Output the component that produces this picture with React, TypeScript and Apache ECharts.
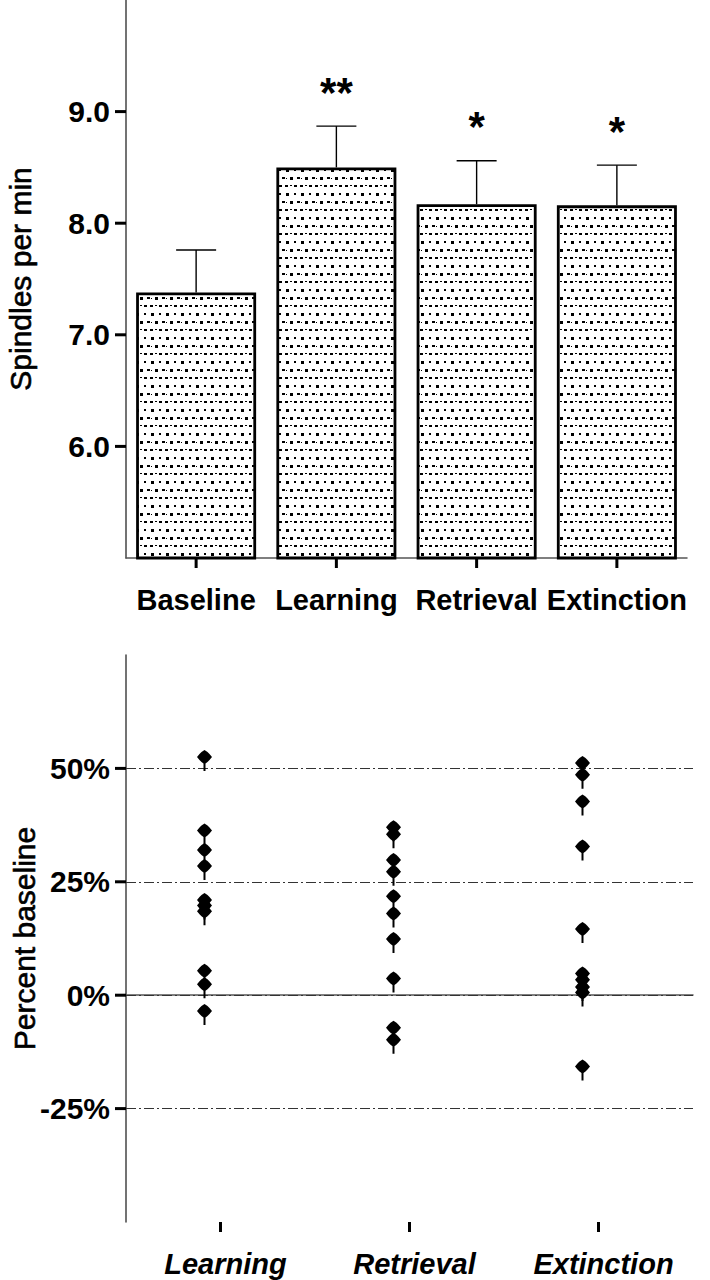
import React, { useEffect, useRef } from "react";
import * as echarts from "echarts";

const barCategories = ["Baseline", "Learning", "Retrieval", "Extinction"];
const barMeans = [7.38, 8.5, 8.17, 8.16];
const barUpper = [7.76, 8.87, 8.56, 8.52];
const significance = ["", "**", "*", "*"];
const barTicks = [6, 7, 8, 9];

const scatterCategories = ["Learning", "Retrieval", "Extinction"];
const learningPct = [52.5, 36.3, 32.0, 28.5, 21.0, 19.8, 18.5, 5.4, 2.4, -3.5];
const retrievalPct = [37.0, 35.5, 29.8, 27.2, 21.8, 18.0, 12.4, 3.7, -7.2, -9.8];
const extinctionPct = [51.2, 48.6, 42.7, 32.8, 14.6, 4.8, 3.4, 1.8, 0.6, -15.7];
const pctTicks = [-25, 0, 25, 50];

const FONT = "Liberation Sans, Arial, Helvetica, sans-serif";

const markerPath =
  "path://M7.5 0 L10.5 2 L12.5 4 L15 7 L12.5 10 L10.5 12 L8.5 13.5 L8.5 21 L6.5 21 L6.5 13.5 L4.5 12 L2.5 10 L0 7 L2.5 4 L4.5 2 Z";

function makePattern() {
  const c = document.createElement("canvas");
  c.width = 15;
  c.height = 24;
  const ctx = c.getContext("2d")!;
  ctx.fillStyle = "#ffffff";
  ctx.fillRect(0, 0, 15, 24);
  ctx.fillStyle = "#000000";
  ctx.fillRect(1, 1, 3, 3);
  ctx.fillRect(9, 1, 2, 2);
  ctx.fillRect(5, 9, 3, 3);
  ctx.fillRect(12, 9, 3, 2);
  ctx.fillRect(1, 10, 1, 1);
  ctx.fillRect(0, 17, 3, 2);
  ctx.fillRect(5, 17, 2, 1);
  ctx.fillRect(9, 17, 3, 2);
  return c;
}

export default function App() {
  const ref = useRef<HTMLDivElement>(null);
  useEffect(() => {
    if (!ref.current) return;
    const chart = echarts.init(ref.current, undefined, { renderer: "svg" });
    const pattern = makePattern();

    const scatterData: number[][] = [];
    [learningPct, retrievalPct, extinctionPct].forEach((arr, i) =>
      arr.forEach((v) => scatterData.push([i, v]))
    );

    const xTickSeries = (gridIdx: number, cats: string[], base: number) => ({
      type: "custom",
      xAxisIndex: gridIdx,
      yAxisIndex: gridIdx,
      data: cats.map((_, i) => [i, base]),
      encode: { x: 0, y: 1 },
      clip: false,
      silent: true,
      z: 10,
      renderItem: (params: any, api: any) => {
        const p = api.coord([api.value(0), api.value(1)]);
        const cs = params.coordSys;
        const yb = cs.y + cs.height;
        return { type: "rect", shape: { x: p[0] - 1.5, y: yb, width: 3, height: 10 }, style: { fill: "#000" } };
      },
    });

    // Y-axis tick marks and tick labels, placed through the axis scale
    const yTickSeries = (gridIdx: number, ticks: number[], fmt: (v: number) => string) => ({
      type: "custom",
      xAxisIndex: gridIdx,
      yAxisIndex: gridIdx,
      data: ticks.map((v) => [0, v]),
      encode: { x: 0, y: 1 },
      clip: false,
      silent: true,
      z: 10,
      renderItem: (params: any, api: any) => {
        const v = api.value(1);
        const p = api.coord([api.value(0), v]);
        const x0 = params.coordSys.x;
        return {
          type: "group",
          children: [
            { type: "rect", shape: { x: x0 - 11, y: p[1] - 1.5, width: 11, height: 3 }, style: { fill: "#000" } },
            {
              type: "text",
              x: x0 - 16,
              y: p[1],
              style: {
                text: fmt(v),
                fontSize: 30,
                fontWeight: "bold",
                fontFamily: FONT,
                fill: "#000",
                align: "right",
                verticalAlign: "middle",
              },
            },
          ],
        };
      },
    });

    const nameStyle = {
      color: "#000",
      fontSize: 30,
      fontFamily: FONT,
      textBorderColor: "#000",
      textBorderWidth: 0.6,
    };

    const option: any = {
      animation: false,
      backgroundColor: "#ffffff",
      textStyle: { fontFamily: FONT },
      grid: [
        { left: 126, top: 0, right: 23, height: 558, outerBoundsMode: "none", containLabel: false },
        { left: 126, top: 655, right: 17, height: 567, outerBoundsMode: "none", containLabel: false },
      ],
      xAxis: [
        {
          gridIndex: 0,
          type: "category",
          data: barCategories,
          axisLine: { lineStyle: { color: "#555", width: 1.5 } },
          axisTick: { show: false },
          axisLabel: { color: "#000", fontSize: 29, fontWeight: "bold", margin: 27, interval: 0, fontFamily: FONT },
        },
        {
          gridIndex: 1,
          type: "category",
          data: scatterCategories,
          axisLine: { lineStyle: { color: "#555", width: 1.5 } },
          axisTick: { show: false },
          axisLabel: {
            color: "#000",
            fontSize: 29,
            fontWeight: "bold",
            fontStyle: "italic",
            margin: 27,
            interval: 0,
            padding: [0, 0, 0, 10],
            fontFamily: FONT,
          },
        },
      ],
      yAxis: [
        {
          gridIndex: 0,
          type: "value",
          min: 5,
          max: 10,
          interval: 1,
          name: "Spindles per min",
          nameLocation: "middle",
          nameGap: 91,
          nameTextStyle: nameStyle,
          axisLine: { show: true, lineStyle: { color: "#444", width: 1.5 } },
          axisTick: { show: false },
          axisLabel: { show: false },
          splitLine: { show: false },
        },
        {
          gridIndex: 1,
          type: "value",
          min: -50,
          max: 75,
          interval: 25,
          name: "Percent baseline",
          nameLocation: "middle",
          nameGap: 87,
          nameTextStyle: nameStyle,
          axisLine: { show: true, lineStyle: { color: "#444", width: 1.5 } },
          axisTick: { show: false },
          axisLabel: { show: false },
          splitLine: { show: false },
        },
      ],
      series: [
        {
          type: "bar",
          xAxisIndex: 0,
          yAxisIndex: 0,
          data: barMeans,
          barWidth: 120,
          itemStyle: {
            color: { image: pattern, repeat: "repeat", imageWidth: 15, imageHeight: 24 },
            borderColor: "#000",
            borderWidth: 2.8,
          },
          z: 2,
        },
        {
          type: "custom",
          xAxisIndex: 0,
          yAxisIndex: 0,
          data: barMeans.map((m, i) => [i, m, barUpper[i]]),
          encode: { x: 0, y: [1, 2] },
          z: 1,
          renderItem: (params: any, api: any) => {
            const i = api.value(0);
            const p0 = api.coord([i, api.value(1)]);
            const p1 = api.coord([i, api.value(2)]);
            const half = 20;
            const st = { stroke: "#000", lineWidth: 1.4 };
            return {
              type: "group",
              children: [
                { type: "line", shape: { x1: p0[0], y1: p0[1], x2: p1[0], y2: p1[1] }, style: st },
                { type: "line", shape: { x1: p1[0] - half, y1: p1[1], x2: p1[0] + half, y2: p1[1] }, style: st },
                {
                  type: "text",
                  x: p1[0],
                  y: p1[1] - 13,
                  style: {
                    text: significance[params.dataIndex],
                    fontSize: 42,
                    fontWeight: "bold",
                    fontFamily: FONT,
                    fill: "#000",
                    align: "center",
                    verticalAlign: "bottom",
                  },
                },
              ],
            };
          },
        },
        xTickSeries(0, barCategories, 5),
        xTickSeries(1, scatterCategories, -50),
        yTickSeries(0, barTicks, (v) => v.toFixed(1)),
        yTickSeries(1, pctTicks, (v) => v + "%"),
        {
          type: "scatter",
          xAxisIndex: 1,
          yAxisIndex: 1,
          data: scatterData,
          symbol: markerPath,
          symbolSize: [15, 21],
          symbolOffset: [-16, 3.5],
          itemStyle: { color: "#000", opacity: 1 },
          z: 3,
          markLine: {
            silent: true,
            symbol: ["none", "none"],
            label: { show: false },
            lineStyle: { color: "#333", width: 1, type: [10, 3, 2, 3] },
            data: pctTicks.map((v) => ({ yAxis: v })),
            z: 1,
          },
        },
      ],
    };
    chart.setOption(option);
    return () => chart.dispose();
  }, []);
  return (
    <div ref={ref} style={{ position: "absolute", left: 0, top: 0, width: 710, height: 1280 }} />
  );
}
